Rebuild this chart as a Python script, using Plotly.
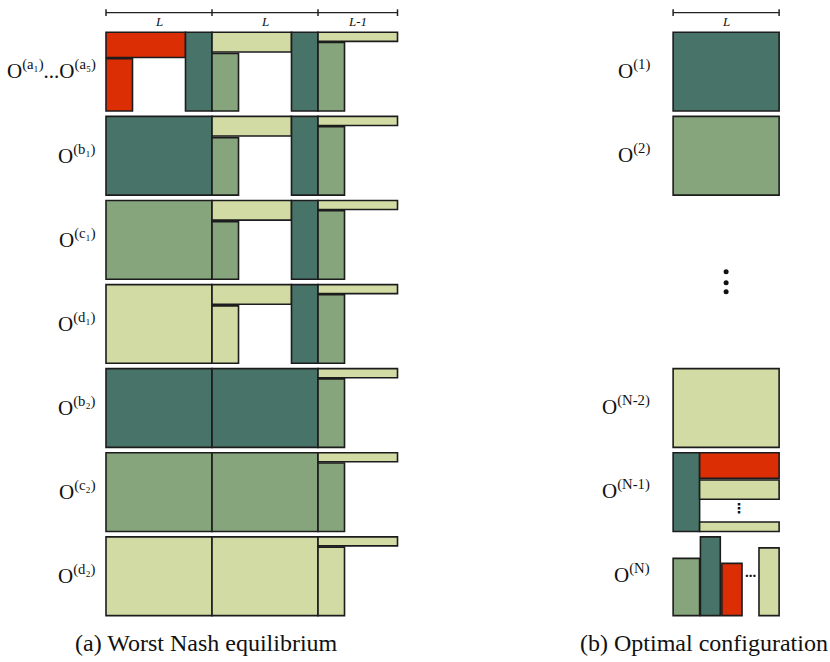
import plotly.graph_objects as go

# Palette for the four player types
COLORS = {
    "red": "#DB2E05",
    "teal": "#487368",
    "green": "#86A57D",
    "pale": "#D3DBA4",
}
EDGE = "#1c1c1c"

# Horizontal unit: L = 4 units; row geometry in row units
ROW_H = 0.936          # filled fraction of each row slot
PANEL_B_X = 21.4       # left edge of panel (b) in x units

# ---- (a) Worst Nash equilibrium ----
nash_labels = [
    "O<sup>(a₁)</sup>...O<sup>(a₅)</sup>",
    "O<sup>(b₁)</sup>",
    "O<sup>(c₁)</sup>",
    "O<sup>(d₁)</sup>",
    "O<sup>(b₂)</sup>",
    "O<sup>(c₂)</sup>",
    "O<sup>(d₂)</sup>",
]
# blocks per row: (colour, x_start, x_end, top_frac, bottom_frac)
nash_blocks = [
    [("red", 0, 3, 0, 0.32), ("red", 0, 1, 0.335, 1), ("teal", 3, 4, 0, 1),
     ("pale", 4, 7, 0, 0.25), ("green", 4, 5, 0.27, 1), ("teal", 7, 8, 0, 1),
     ("pale", 8, 11, 0, 0.115), ("green", 8, 9, 0.13, 1)],
    [("teal", 0, 4, 0, 1),
     ("pale", 4, 7, 0, 0.25), ("green", 4, 5, 0.27, 1), ("teal", 7, 8, 0, 1),
     ("pale", 8, 11, 0, 0.115), ("green", 8, 9, 0.13, 1)],
    [("green", 0, 4, 0, 1),
     ("pale", 4, 7, 0, 0.25), ("green", 4, 5, 0.27, 1), ("teal", 7, 8, 0, 1),
     ("pale", 8, 11, 0, 0.115), ("green", 8, 9, 0.13, 1)],
    [("pale", 0, 4, 0, 1),
     ("pale", 4, 7, 0, 0.25), ("pale", 4, 5, 0.27, 1), ("teal", 7, 8, 0, 1),
     ("pale", 8, 11, 0, 0.115), ("green", 8, 9, 0.13, 1)],
    [("teal", 0, 4, 0, 1), ("teal", 4, 8, 0, 1),
     ("pale", 8, 11, 0, 0.115), ("green", 8, 9, 0.13, 1)],
    [("green", 0, 4, 0, 1), ("green", 4, 8, 0, 1),
     ("pale", 8, 11, 0, 0.115), ("green", 8, 9, 0.13, 1)],
    [("pale", 0, 4, 0, 1), ("pale", 4, 8, 0, 1),
     ("pale", 8, 11, 0, 0.115), ("pale", 8, 9, 0.13, 1)],
]
nash_ruler_ticks = [0, 4, 8, 11]
nash_ruler_labels = ["L", "L", "L-1"]

# ---- (b) Optimal configuration ----
opt_labels = ["O<sup>(1)</sup>", "O<sup>(2)</sup>", "O<sup>(N-2)</sup>",
              "O<sup>(N-1)</sup>", "O<sup>(N)</sup>"]
opt_rows = [0, 1, 4, 5, 6]
opt_blocks = [
    [("teal", 0, 4, 0, 1)],
    [("green", 0, 4, 0, 1)],
    [("pale", 0, 4, 0, 1)],
    [("teal", 0, 1, 0, 1), ("red", 1, 4, 0, 0.325), ("pale", 1, 4, 0.345, 0.59),
     ("pale", 1, 4, 0.88, 1)],
    [("green", 0, 1, 0.273, 1), ("teal", 1.03, 1.78, 0.0, 1),
     ("red", 1.84, 2.6, 0.337, 1), ("pale", 3.24, 4, 0.14, 1)],
]
opt_ruler_ticks = [0, 4]
opt_ruler_labels = ["L"]

fig = go.Figure()


def add_block(row, x_off, block):
    color, xa, xb, ta, tb = block
    fig.add_shape(
        type="rect", xref="x", yref="y",
        x0=x_off + xa, x1=x_off + xb,
        y0=row + ta * ROW_H, y1=row + tb * ROW_H,
        fillcolor=COLORS[color], line=dict(color=EDGE, width=1.6),
        layer="above",
    )


SERIF = "Liberation Serif, Times New Roman, serif"
LABEL_FONT = dict(family=SERIF, size=21, color="#111")

for r, (lab, blocks) in enumerate(zip(nash_labels, nash_blocks)):
    for b in blocks:
        add_block(r, 0, b)
    fig.add_annotation(x=-0.3, y=r + ROW_H / 2 - 0.02, text=lab, showarrow=False,
                       xanchor="right", yanchor="middle", font=LABEL_FONT)

for r, lab, blocks in zip(opt_rows, opt_labels, opt_blocks):
    for b in blocks:
        add_block(r, PANEL_B_X, b)
    fig.add_annotation(x=PANEL_B_X - 0.8, y=r + ROW_H / 2 - 0.03, text=lab,
                       showarrow=False, xanchor="right", yanchor="middle",
                       font=LABEL_FONT)


def add_ruler(x_off, ticks, labels):
    y_line = -0.233
    fig.add_shape(type="line", xref="x", yref="y", x0=x_off + ticks[0],
                  x1=x_off + ticks[-1], y0=y_line, y1=y_line,
                  line=dict(color="#222", width=1.2))
    for t in ticks:
        fig.add_shape(type="line", xref="x", yref="y", x0=x_off + t, x1=x_off + t,
                      y0=y_line - 0.04, y1=y_line + 0.04,
                      line=dict(color="#222", width=1.5))
    for a, b, lab in zip(ticks[:-1], ticks[1:], labels):
        fig.add_annotation(x=x_off + (a + b) / 2, y=-0.125, text=f"<i>{lab}</i>",
                           showarrow=False, yanchor="middle",
                           font=dict(family=SERIF, size=13, color="#111"))


add_ruler(0, nash_ruler_ticks, nash_ruler_labels)
add_ruler(PANEL_B_X, opt_ruler_ticks, opt_ruler_labels)

# Ellipsis between O(2) and O(N-2)
gap_dots_y = [2.847, 2.978, 3.085]
fig.add_trace(go.Scatter(x=[PANEL_B_X + 2.0] * len(gap_dots_y), y=gap_dots_y,
                         mode="markers", marker=dict(size=5, color="#111"),
                         hoverinfo="skip", showlegend=False))

# Small ellipses inside O(N-1) and O(N)
fig.add_annotation(x=PANEL_B_X + 2.5, y=5 + 0.7 * ROW_H, text="<b>⋮</b>", showarrow=False,
                   font=dict(family="DejaVu Sans", size=14, color="#111"))
fig.add_annotation(x=PANEL_B_X + 2.92, y=6 + 0.45 * ROW_H, text="<b>...</b>", showarrow=False,
                   font=dict(family=SERIF, size=15, color="#111"))

# Panel captions
CAP_FONT = dict(family=SERIF, size=24, color="#111")
fig.add_annotation(x=3.81, y=7.26, text="(a) Worst Nash equilibrium",
                   showarrow=False, font=CAP_FONT)
fig.add_annotation(x=22.55, y=7.26, text="(b) Optimal configuration",
                   showarrow=False, font=CAP_FONT)

fig.update_layout(
    width=830, height=662,
    margin=dict(l=0, r=0, t=0, b=0),
    paper_bgcolor="white", plot_bgcolor="white",
    xaxis=dict(range=[-4.0, 27.32], visible=False, fixedrange=True),
    yaxis=dict(range=[7.488, -0.384], visible=False, fixedrange=True),
    showlegend=False,
)

fig.write_html("out.html")
